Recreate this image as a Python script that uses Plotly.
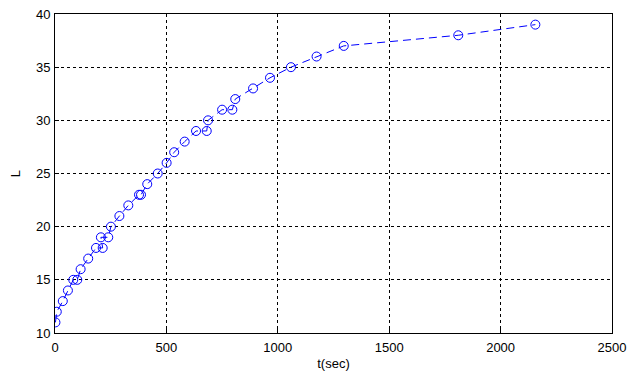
import plotly.graph_objects as go

t_sec = [2, 8, 35, 58, 82, 100, 115, 149, 184, 214, 206, 239, 251, 289, 329, 377, 386, 414,
         461, 501, 535, 582, 633, 681, 687, 750, 796, 809, 889, 965, 1059, 1174, 1296, 1810, 2156]
L_vals = [11, 12, 13, 14, 15, 15, 16, 17, 18, 18, 19, 19, 20, 21, 22, 23, 23, 24,
          25, 26, 27, 28, 29, 29, 30, 31, 31, 32, 33, 34, 35, 36, 37, 38, 39]

x_ticks = [0, 500, 1000, 1500, 2000, 2500]
y_ticks = [10, 15, 20, 25, 30, 35, 40]

FONT = "Liberation Sans, Arial, sans-serif"

fig = go.Figure()
fig.add_trace(go.Scatter(
    x=t_sec, y=L_vals, mode="lines+markers",
    line=dict(color="#0000ff", width=1, dash="8px,5px"),
    marker=dict(symbol="circle-open", size=9, color="#0000ff", line=dict(width=1, color="#0000ff")),
    showlegend=False,
))

axis_common = dict(
    showline=True, linecolor="black", linewidth=1, mirror=True,
    showgrid=True, gridcolor="black", griddash="3px,3px", gridwidth=1,
    ticks="inside", ticklen=4, tickcolor="black",
    zeroline=False, automargin=False, ticklabeloverflow="allow",
    tickfont=dict(family=FONT, size=13, color="black"),
)

fig.update_xaxes(range=[0, 2500], tickvals=x_ticks, ticklabelstandoff=2,
                 title=dict(text="t(sec)", standoff=5, font=dict(family=FONT, size=13, color="black")),
                 **axis_common)
fig.update_yaxes(range=[10, 40], tickvals=y_ticks, ticklabelstandoff=1,
                 title=dict(text="L", standoff=16, font=dict(family=FONT, size=13, color="black")),
                 **axis_common)

# page body has an 8px default margin, so the figure is sized/placed to compensate
fig.update_layout(
    width=628, height=364,
    margin=dict(l=47, r=24, t=6, b=39),
    plot_bgcolor="white", paper_bgcolor="white",
)

fig.write_html("out.html")
